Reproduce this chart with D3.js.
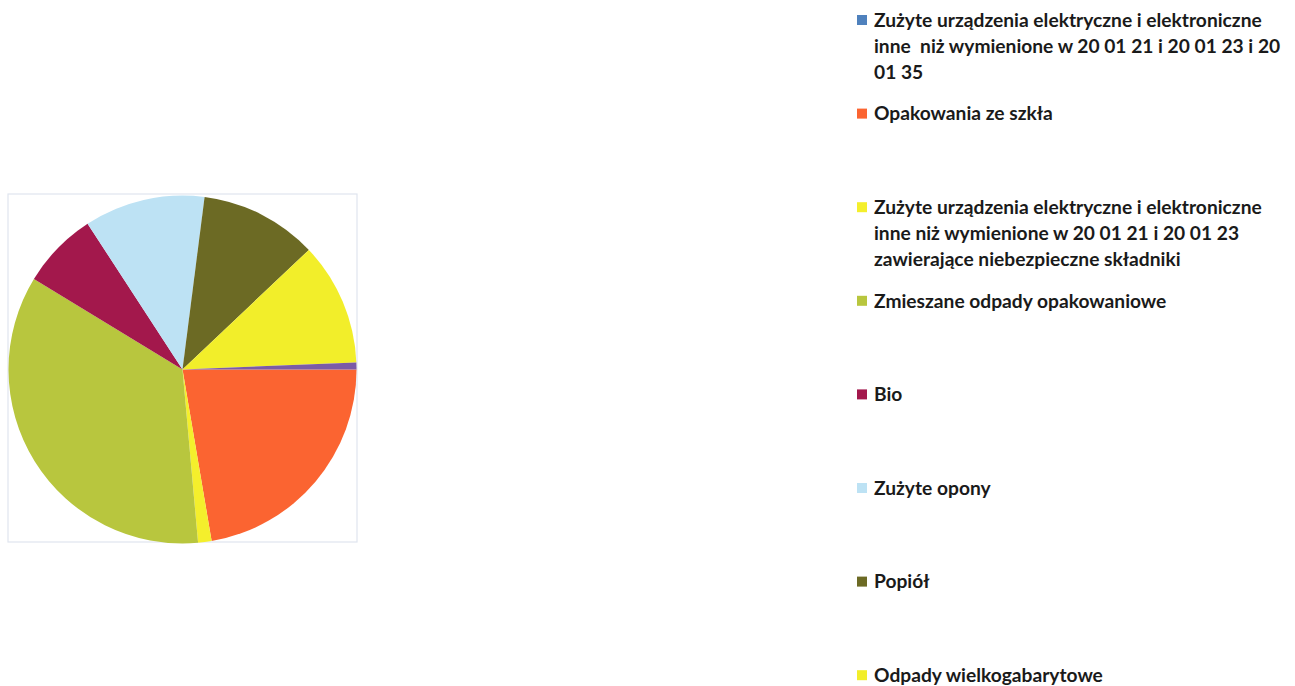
<!DOCTYPE html>
<html>
<head>
<meta charset="utf-8">
<script src="https://cdn.jsdelivr.net/npm/d3@7"></script>
<style>
  body { margin: 0; background: #fff; }
  svg { display: block; }
</style>
</head>
<body>
<svg id="chart" width="1295" height="686"></svg>
<script>
// legend labels, each broken into its lines as in the original
const categories = [
  ["Zużyte urządzenia elektryczne i elektroniczne", "inne  niż wymienione w 20 01 21 i 20 01 23 i 20", "01 35"],
  ["Opakowania ze szkła"],
  ["Zużyte urządzenia elektryczne i elektroniczne", "inne niż wymienione w 20 01 21 i 20 01 23", "zawierające niebezpieczne składniki"],
  ["Zmieszane odpady opakowaniowe"],
  ["Bio"],
  ["Zużyte opony"],
  ["Popiół"],
  ["Odpady wielkogabarytowe"],
  ["Inne"]
];
// shares in percent
const values = [0, 22.3, 1.25, 35.1, 7.1, 11.2, 10.9, 11.4, 0.65];
const colors = ["#4f81bd", "#fb6431", "#f4ef2c", "#b8c63e", "#a3184c", "#bde2f4", "#6c6a24", "#f2ee2a", "#7b5ba6"];

const svg = d3.select("#chart");

const cx = 182.5, cy = 369.5, radius = 174;
const frame = { x: 8, y: 194, w: 349, h: 348 };

// plot area frame
svg.append("rect")
  .attr("x", frame.x).attr("y", frame.y)
  .attr("width", frame.w).attr("height", frame.h)
  .attr("fill", "none")
  .attr("stroke", "#dfe5ef")
  .attr("stroke-width", 1.2);

const pie = d3.pie()
  .sort(null)
  .startAngle(Math.PI / 2)
  .endAngle(Math.PI / 2 + 2 * Math.PI)
  .value(d => d);

const arc = d3.arc().innerRadius(0).outerRadius(radius);

svg.append("g")
  .attr("transform", "translate(" + cx + "," + cy + ")")
  .selectAll("path")
  .data(pie(values))
  .join("path")
  .attr("d", arc)
  .attr("fill", (d, i) => colors[i]);

// legend
const legendX = 857, legendY = 20, itemStep = 93.6, lineStep = 26;
const legend = svg.append("g").attr("transform", "translate(" + legendX + "," + legendY + ")");

const item = legend.selectAll("g.item")
  .data(categories)
  .join("g")
  .attr("class", "item")
  .attr("transform", (d, i) => "translate(0," + (i * itemStep) + ")");

item.append("rect")
  .attr("x", 0).attr("y", -5)
  .attr("width", 10).attr("height", 10)
  .attr("fill", (d, i) => colors[i]);

item.append("text")
  .attr("x", 17)
  .attr("y", 0)
  .style("font-family", "Lato, 'Open Sans', sans-serif")
  .style("font-size", "19.2px")
  .style("font-weight", "bold")
  .style("fill", "#1a1a1a")
  .selectAll("tspan")
  .data(d => d)
  .join("tspan")
  .attr("x", 17)
  .attr("y", (d, j) => j * lineStep)
  .attr("dy", "0.35em")
  .style("white-space", "pre")
  .text(d => d);
</script>
</body>
</html>
